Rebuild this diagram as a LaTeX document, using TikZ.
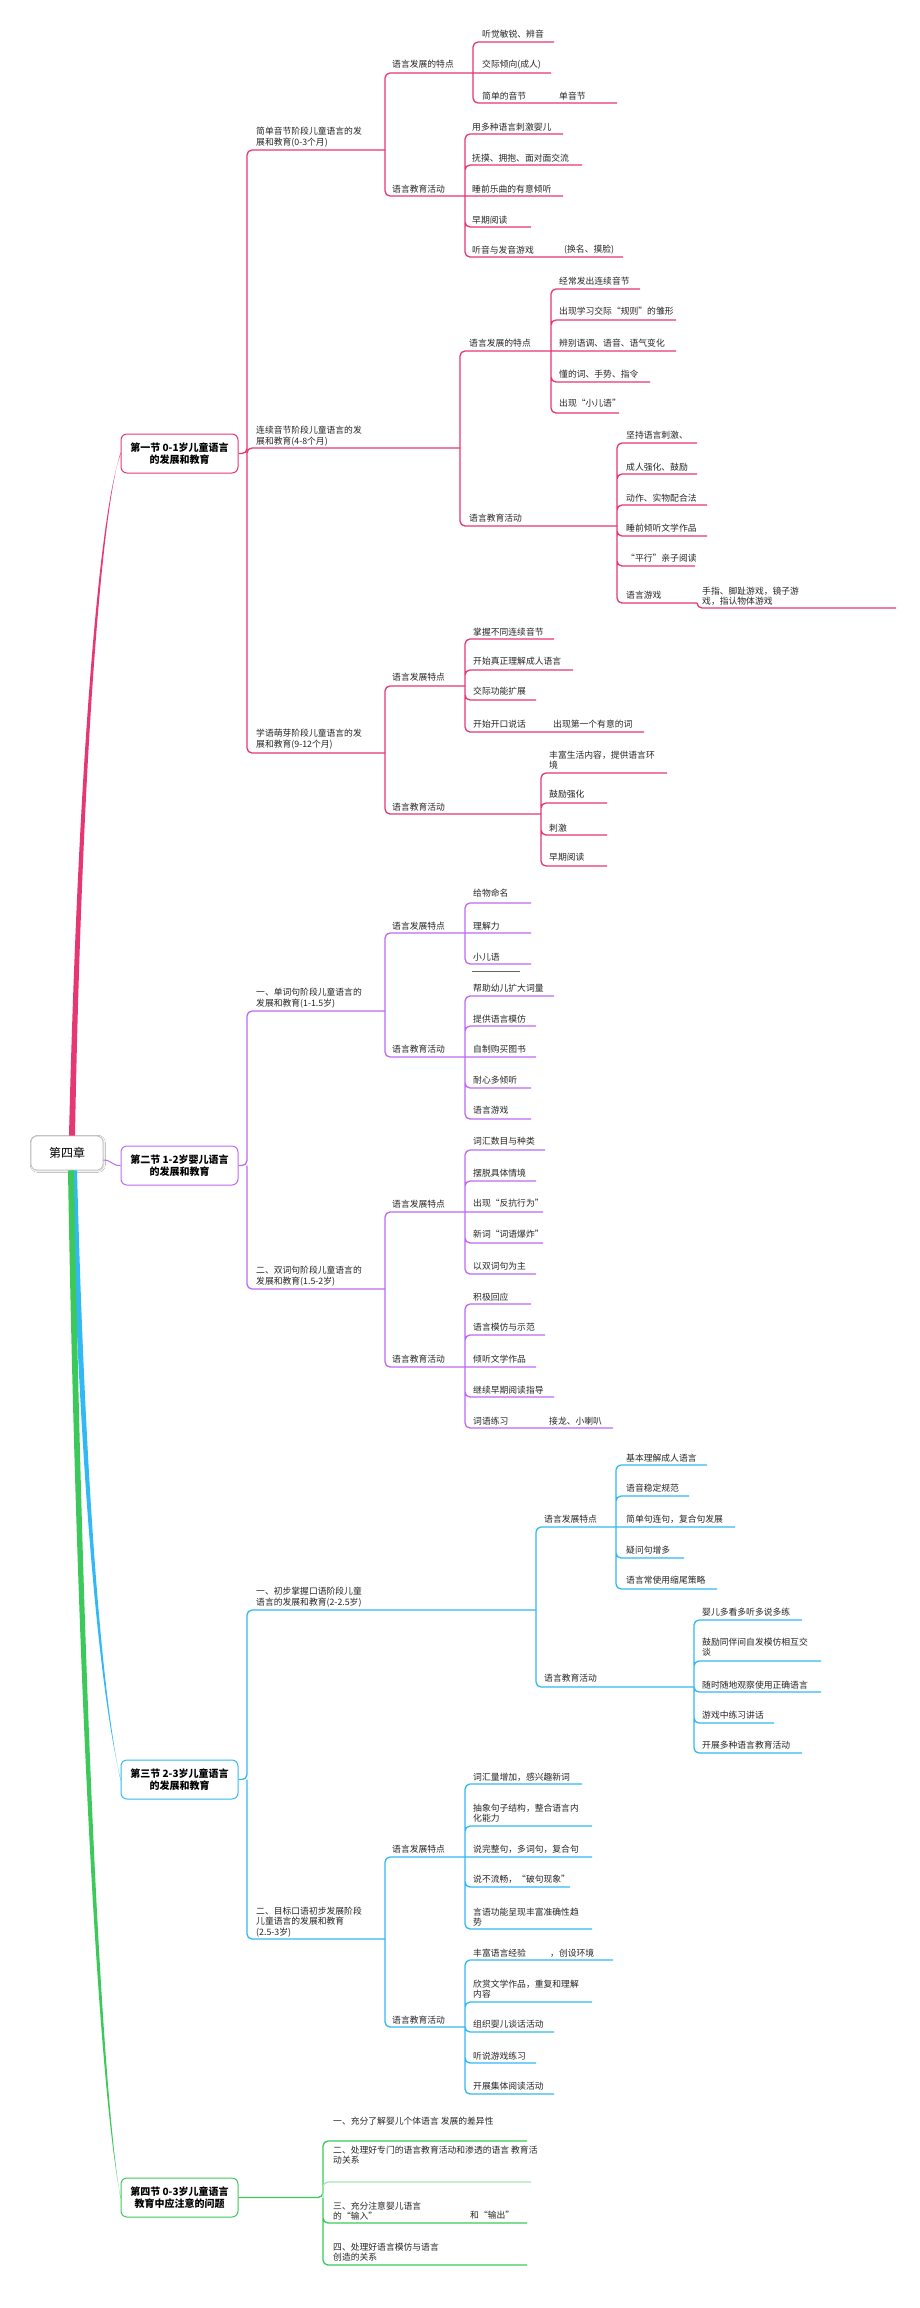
\documentclass[tikz,border=0pt]{standalone}
\usepackage{fontspec}
\newfontfamily\cjk{Noto Sans CJK SC}
\usepackage{tikz}
\usetikzlibrary{calc, shadows.blur}

\definecolor{secA}{RGB}{230,55,115}
\definecolor{secB}{RGB}{190,105,245}
\definecolor{secC}{RGB}{50,185,245}
\definecolor{secD}{RGB}{60,200,90}

\tikzset{
  mmtext/.style={anchor=west, inner sep=0pt, align=left, text=black!85,
    font=\cjk\fontsize{8.8}{10.5}\selectfont},
  mmline/.style={line width=1.3pt, rounded corners=5pt},
  secbox/.style={line width=1pt, rounded corners=6pt, fill=white, text=black,
    minimum width=117pt, minimum height=39pt, align=center,
    font=\cjk\bfseries\fontsize{10}{12.5}\selectfont},
  rootbox/.style={draw=black!25, line width=0.8pt, rounded corners=6pt, fill=white,
    minimum width=72pt, minimum height=34pt, font=\cjk\fontsize{12}{14}\selectfont,
    blur shadow={shadow xshift=0.8pt, shadow yshift=-0.8pt, shadow blur radius=1.5pt, shadow opacity=20}},
}

% 名称, 文字x, 文字y, 下划线y, 下划线终点x, 文字
\newcommand{\mmitem}[6]{\node[mmtext] (#1) at (#2,#3) {#6};\coordinate (#1-e) at (#5,#4);}

\begin{document}
\begin{tikzpicture}[x=1pt, y=-1pt]
\path[use as bounding box, fill=white] (0,0) rectangle (920,2308);

% --- 中心主题与四个小节 ---
\node[rootbox] (root) at (67,1153) {第四章};
\node[secbox, draw=secA] (s1) at (179.5,453.5) {第一节 0-1岁儿童语言\\的发展和教育};
\node[secbox, draw=secB] (s2) at (179.5,1165.5) {第二节 1-2岁婴儿语言\\的发展和教育};
\node[secbox, draw=secC] (s3) at (179.5,1779.5) {第三节 2-3岁儿童语言\\的发展和教育};
\node[secbox, draw=secD] (s4) at (179.5,2197.5) {第四节 0-3岁儿童语言\\教育中应注意的问题};

% 主干 (由粗变细)
\fill[secA] ($(root.north)+(2,0)$) .. controls (77,800) and (97,520) .. ($(s1.west)+(0,0.8)$)
  -- ($(s1.west)+(0,-0.8)$) .. controls (99,520) and (81,800) .. ($(root.north)+(8,0)$) -- cycle;
\draw[secB, line width=1pt] ($(root.east)+(0,7)$) .. controls (112,1160) and (112,1166) .. (s2.west);
\fill[secC] ($(root.south)+(4,0)$) .. controls (80,1480) and (99,1690) .. ($(s3.west)+(0,-0.8)$)
  -- ($(s3.west)+(0,0.8)$) .. controls (101,1690) and (85,1480) .. ($(root.south)+(10,0)$) -- cycle;
\fill[secD] ($(root.south)+(1,0)$) .. controls (76,1650) and (97,2080) .. ($(s4.west)+(0,-0.8)$)
  -- ($(s4.west)+(0,0.8)$) .. controls (100,2080) and (82,1650) .. ($(root.south)+(7,0)$) -- cycle;

% --- 第一节 ---
\begin{scope}[color=secA]
  \coordinate (s1-e) at (247,453.5);
  \mmitem{a1}{256}{137}{150}{385}{简单音节阶段儿童语言的发\\展和教育(0-3个月)}
  \mmitem{a2}{256}{436}{448}{460}{连续音节阶段儿童语言的发\\展和教育(4-8个月)}
  \mmitem{a3}{256}{739}{753}{385}{学语萌芽阶段儿童语言的发\\展和教育(9-12个月)}
  \draw[mmline] (s1.east) -- (s1-e) |- (a1-e) (s1-e) |- (a2-e) (s1-e) |- (a3-e);

  % 0-3个月
  \mmitem{a1b}{392}{64}{73}{473}{语言发展的特点}
  \mmitem{a1c}{392}{189}{196}{465}{语言教育活动}
  \draw[mmline] (a1-e) |- (a1b-e) (a1-e) |- (a1c-e);
  \mmitem{a1b1}{482}{34}{42}{554}{听觉敏锐、辨音}
  \mmitem{a1b2}{482}{65}{73}{551}{交际倾向(成人)}
  \mmitem{a1b3}{482}{96}{103}{617}{简单的音节}
  \node[mmtext] (a1b3x) at (559,96) {单音节};
  \draw[mmline] (a1b-e) |- (a1b1-e) (a1b-e) -- (a1b2-e) (a1b-e) |- (a1b3-e);
  \mmitem{a1c1}{472}{127}{134}{563}{用多种语言刺激婴儿}
  \mmitem{a1c2}{472}{158}{165}{582}{抚摸、拥抱、面对面交流}
  \mmitem{a1c3}{472}{189}{196}{563}{睡前乐曲的有意倾听}
  \mmitem{a1c4}{472}{220}{227}{531}{早期阅读}
  \mmitem{a1c5}{472}{250}{257}{623}{听音与发音游戏}
  \node[mmtext] (a1c5x) at (564,250) {(换名、摸脸)};
  \draw[mmline] (a1c-e) |- (a1c1-e) (a1c-e) |- (a1c2-e) (a1c-e) -- (a1c3-e)
    (a1c-e) |- (a1c4-e) (a1c-e) |- (a1c5-e);

  % 4-8个月
  \mmitem{a2b}{469}{343}{351}{551}{语言发展的特点}
  \mmitem{a2c}{469}{518}{526}{617}{语言教育活动}
  \draw[mmline] (a2-e) |- (a2b-e) (a2-e) |- (a2c-e);
  \mmitem{a2b1}{559}{281}{289}{640}{经常发出连续音节}
  \mmitem{a2b2}{559}{311}{320}{676}{出现学习交际“规则”的雏形}
  \mmitem{a2b3}{559}{343}{351}{676}{辨别语调、语音、语气变化}
  \mmitem{a2b4}{559}{374}{382}{650}{懂的词、手势、指令}
  \mmitem{a2b5}{559}{403}{413}{619}{出现“小儿语”}
  \draw[mmline] (a2b-e) |- (a2b1-e) (a2b-e) |- (a2b2-e) (a2b-e) -- (a2b3-e)
    (a2b-e) |- (a2b4-e) (a2b-e) |- (a2b5-e);
  \mmitem{a2c1}{626}{435}{443}{697}{坚持语言刺激、}
  \mmitem{a2c2}{626}{467}{474}{697}{成人强化、鼓励}
  \mmitem{a2c3}{626}{498}{505}{707}{动作、实物配合法}
  \mmitem{a2c4}{626}{528}{536}{707}{睡前倾听文学作品}
  \mmitem{a2c5}{626}{558}{566}{695}{“平行”亲子阅读}
  \mmitem{a2c6}{626}{595}{603}{697}{语言游戏}
  \draw[mmline] (a2c-e) |- (a2c1-e) (a2c-e) |- (a2c2-e) (a2c-e) |- (a2c3-e)
    (a2c-e) |- (a2c4-e) (a2c-e) |- (a2c5-e) (a2c-e) |- (a2c6-e);
  \mmitem{a2c6a}{702}{596}{608}{896}{手指、脚趾游戏，镜子游\\戏，指认物体游戏}
  \draw[mmline] (a2c6-e) |- (a2c6a-e);

  % 9-12个月
  \mmitem{a3b}{392}{677}{686}{465}{语言发展特点}
  \mmitem{a3c}{392}{807}{814}{541}{语言教育活动}
  \draw[mmline] (a3-e) |- (a3b-e) (a3-e) |- (a3c-e);
  \mmitem{a3b1}{473}{632}{639}{554}{掌握不同连续音节}
  \mmitem{a3b2}{473}{661}{670}{573}{开始真正理解成人语言}
  \mmitem{a3b3}{473}{691}{700}{536}{交际功能扩展}
  \mmitem{a3b4}{473}{724}{732}{644}{开始开口说话}
  \node[mmtext] (a3b4x) at (553,724) {出现第一个有意的词};
  \draw[mmline] (a3b-e) |- (a3b1-e) (a3b-e) |- (a3b2-e) (a3b-e) |- (a3b3-e) (a3b-e) |- (a3b4-e);
  \mmitem{a3c1}{549}{760}{773}{667}{丰富生活内容，提供语言环\\境}
  \mmitem{a3c2}{549}{794}{803}{607}{鼓励强化}
  \mmitem{a3c3}{549}{828}{835}{607}{刺激}
  \mmitem{a3c4}{549}{857}{866}{607}{早期阅读}
  \draw[mmline] (a3c-e) |- (a3c1-e) (a3c-e) |- (a3c2-e) (a3c-e) |- (a3c3-e) (a3c-e) |- (a3c4-e);
\end{scope}

% --- 第二节 ---
\begin{scope}[color=secB]
  \coordinate (s2-e) at (247,1165.5);
  \mmitem{d1}{256}{998}{1011}{385}{一、单词句阶段儿童语言的\\发展和教育(1-1.5岁)}
  \mmitem{d2}{256}{1276}{1289}{385}{二、双词句阶段儿童语言的\\发展和教育(1.5-2岁)}
  \draw[mmline] (s2.east) -- (s2-e) |- (d1-e) (s2-e) |- (d2-e);

  % 1-1.5岁
  \mmitem{d1b}{392}{926}{933}{465}{语言发展特点}
  \mmitem{d1c}{392}{1049}{1057}{465}{语言教育活动}
  \draw[mmline] (d1-e) |- (d1b-e) (d1-e) |- (d1c-e);
  \mmitem{d1b1}{473}{893}{903}{531}{给物命名}
  \mmitem{d1b2}{473}{926}{933}{531}{理解力}
  \mmitem{d1b3}{473}{957}{964}{531}{小儿语}
  \draw[mmline] (d1b-e) |- (d1b1-e) (d1b-e) -- (d1b2-e) (d1b-e) |- (d1b3-e);
  \draw[black!60, line width=1pt] (472,971) -- (520,971);
  \mmitem{d1c1}{473}{988}{996}{554}{帮助幼儿扩大词量}
  \mmitem{d1c2}{473}{1019}{1026}{536}{提供语言模仿}
  \mmitem{d1c3}{473}{1049}{1057}{536}{自制购买图书}
  \mmitem{d1c4}{473}{1080}{1088}{531}{耐心多倾听}
  \mmitem{d1c5}{473}{1110}{1119}{531}{语言游戏}
  \draw[mmline] (d1c-e) |- (d1c1-e) (d1c-e) |- (d1c2-e) (d1c-e) -- (d1c3-e)
    (d1c-e) |- (d1c4-e) (d1c-e) |- (d1c5-e);

  % 1.5-2岁
  \mmitem{d2b}{392}{1204}{1212}{465}{语言发展特点}
  \mmitem{d2c}{392}{1359}{1367}{465}{语言教育活动}
  \draw[mmline] (d2-e) |- (d2b-e) (d2-e) |- (d2c-e);
  \mmitem{d2b1}{473}{1141}{1150}{545}{词汇数目与种类}
  \mmitem{d2b2}{473}{1173}{1181}{536}{摆脱具体情境}
  \mmitem{d2b3}{473}{1203}{1212}{543}{出现“反抗行为”}
  \mmitem{d2b4}{473}{1234}{1243}{543}{新词“词语爆炸”}
  \mmitem{d2b5}{473}{1266}{1274}{536}{以双词句为主}
  \draw[mmline] (d2b-e) |- (d2b1-e) (d2b-e) |- (d2b2-e) (d2b-e) -- (d2b3-e)
    (d2b-e) |- (d2b4-e) (d2b-e) |- (d2b5-e);
  \mmitem{d2c1}{473}{1297}{1304}{531}{积极回应}
  \mmitem{d2c2}{473}{1327}{1335}{545}{语言模仿与示范}
  \mmitem{d2c3}{473}{1359}{1367}{536}{倾听文学作品}
  \mmitem{d2c4}{473}{1390}{1397}{554}{继续早期阅读指导}
  \mmitem{d2c5}{473}{1421}{1428}{613}{词语练习}
  \node[mmtext] (d2c5x) at (549,1421) {接龙、小喇叭};
  \draw[mmline] (d2c-e) |- (d2c1-e) (d2c-e) |- (d2c2-e) (d2c-e) -- (d2c3-e)
    (d2c-e) |- (d2c4-e) (d2c-e) |- (d2c5-e);
\end{scope}

% --- 第三节 ---
\begin{scope}[color=secC]
  \coordinate (s3-e) at (247,1779.5);
  \mmitem{e1}{256}{1597}{1610}{536}{一、初步掌握口语阶段儿童\\语言的发展和教育(2-2.5岁)}
  \mmitem{e2}{256}{1922}{1939}{385}{二、目标口语初步发展阶段\\儿童语言的发展和教育\\(2.5-3岁)}
  \draw[mmline] (s3.east) -- (s3-e) |- (e1-e) (s3-e) |- (e2-e);

  % 2-2.5岁
  \mmitem{e1b}{544}{1519}{1527}{616}{语言发展特点}
  \mmitem{e1c}{544}{1678}{1687}{694}{语言教育活动}
  \draw[mmline] (e1-e) |- (e1b-e) (e1-e) |- (e1c-e);
  \mmitem{e1b1}{626}{1458}{1465}{707}{基本理解成人语言}
  \mmitem{e1b2}{626}{1488}{1496}{689}{语音稳定规范}
  \mmitem{e1b3}{626}{1519}{1527}{735}{简单句连句，复合句发展}
  \mmitem{e1b4}{626}{1550}{1558}{684}{疑问句增多}
  \mmitem{e1b5}{626}{1580}{1589}{717}{语言常使用缩尾策略}
  \draw[mmline] (e1b-e) |- (e1b1-e) (e1b-e) |- (e1b2-e) (e1b-e) -- (e1b3-e)
    (e1b-e) |- (e1b4-e) (e1b-e) |- (e1b5-e);
  \mmitem{e1c1}{702}{1612}{1620}{802}{婴儿多看多听多说多练}
  \mmitem{e1c2}{702}{1647}{1661}{821}{鼓励同伴间自发模仿相互交\\谈}
  \mmitem{e1c3}{702}{1685}{1692}{821}{随时随地观察使用正确语言}
  \mmitem{e1c4}{702}{1715}{1723}{774}{游戏中练习讲话}
  \mmitem{e1c5}{702}{1745}{1753}{802}{开展多种语言教育活动}
  \draw[mmline] (e1c-e) |- (e1c1-e) (e1c-e) |- (e1c2-e) (e1c-e) |- (e1c3-e)
    (e1c-e) |- (e1c4-e) (e1c-e) |- (e1c5-e);

  % 2.5-3岁
  \mmitem{e2b}{392}{1849}{1857}{465}{语言发展特点}
  \mmitem{e2c}{392}{2020}{2027}{465}{语言教育活动}
  \draw[mmline] (e2-e) |- (e2b-e) (e2-e) |- (e2c-e);
  \mmitem{e2b1}{473}{1777}{1784}{582}{词汇量增加，感兴趣新词}
  \mmitem{e2b2}{473}{1813}{1826}{592}{抽象句子结构，整合语言内\\化能力}
  \mmitem{e2b3}{473}{1849}{1857}{592}{说完整句，多词句，复合句}
  \mmitem{e2b4}{473}{1879}{1887}{570}{说不流畅，“破句现象”}
  \mmitem{e2b5}{473}{1917}{1929}{592}{言语功能呈现丰富准确性趋\\势}
  \draw[mmline] (e2b-e) |- (e2b1-e) (e2b-e) |- (e2b2-e) (e2b-e) -- (e2b3-e)
    (e2b-e) |- (e2b4-e) (e2b-e) |- (e2b5-e);
  \mmitem{e2c1}{473}{1953}{1960}{613}{丰富语言经验}
  \node[mmtext] (e2c1x) at (550,1953) {，创设环境};
  \mmitem{e2c2}{473}{1989}{2002}{592}{欣赏文学作品，重复和理解\\内容}
  \mmitem{e2c3}{473}{2024}{2032}{554}{组织婴儿谈话活动}
  \mmitem{e2c4}{473}{2056}{2063}{536}{听说游戏练习}
  \mmitem{e2c5}{473}{2086}{2094}{554}{开展集体阅读活动}
  \draw[mmline] (e2c-e) |- (e2c1-e) (e2c-e) |- (e2c2-e) (e2c-e) |- (e2c3-e)
    (e2c-e) |- (e2c4-e) (e2c-e) |- (e2c5-e);
\end{scope}

% --- 第四节 ---
\begin{scope}[color=secD]
  \coordinate (s4-e) at (323,2197.5);
  \mmitem{f1}{333}{2121}{2141}{527}{一、充分了解婴儿个体语言 发展的差异性}
  \mmitem{f2}{333}{2155}{2182}{531}{二、处理好专门的语言教育活动和渗透的语言 教育活\\动关系}
  \mmitem{f3}{333}{2211}{2223}{527}{三、充分注意婴儿语言\\的“输入”}
  \node[mmtext] (f3x) at (470,2215) {和“输出”};
  \mmitem{f4}{333}{2252}{2265}{527}{四、处理好语言模仿与语言\\创造的关系}
  \draw[mmline] (s4.east) -- (s4-e) |- (f1-e) (s4-e) |- (f3-e) (s4-e) |- (f4-e);
  \draw[mmline, secD!45] (s4-e) |- (f2-e);
\end{scope}
\end{tikzpicture}
\end{document}
